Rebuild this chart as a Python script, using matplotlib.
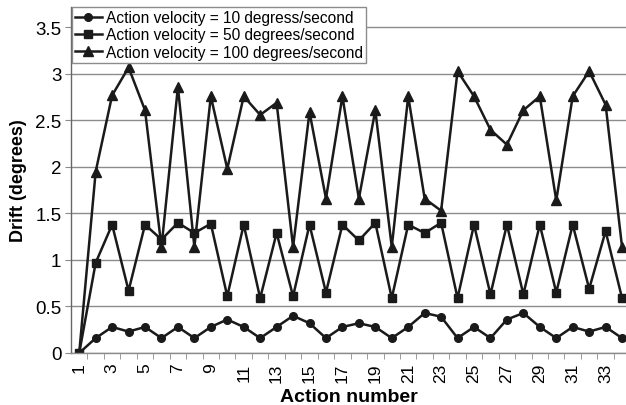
import matplotlib
matplotlib.use("Agg")
import matplotlib.pyplot as plt
import numpy as np

plt.rcParams['font.family'] = ['Liberation Sans', 'DejaVu Sans']

actions = list(range(1, 35))
v10 = [0, 0.16, 0.28, 0.23, 0.28, 0.16, 0.28, 0.16, 0.28, 0.36,
       0.28, 0.16, 0.28, 0.40, 0.32, 0.16, 0.28, 0.32, 0.28, 0.16,
       0.28, 0.43, 0.39, 0.16, 0.28, 0.16, 0.36, 0.43, 0.28, 0.16,
       0.28, 0.23, 0.28, 0.16]
v50 = [0, 0.97, 1.38, 0.67, 1.38, 1.22, 1.40, 1.29, 1.39, 0.61,
       1.38, 0.59, 1.29, 0.61, 1.38, 0.65, 1.38, 1.21, 1.40, 0.59,
       1.38, 1.29, 1.40, 0.59, 1.38, 0.63, 1.38, 0.63, 1.38, 0.65,
       1.38, 0.69, 1.31, 0.59]
v100 = [0, 1.95, 2.77, 3.07, 2.61, 1.14, 2.86, 1.14, 2.76, 1.98,
        2.76, 2.56, 2.69, 1.14, 2.59, 1.66, 2.76, 1.66, 2.61, 1.14,
        2.76, 1.66, 1.53, 3.03, 2.76, 2.40, 2.24, 2.61, 2.76, 1.64,
        2.76, 3.03, 2.67, 1.14]
labels = ["Action velocity = 10 degress/second",
          "Action velocity = 50 degrees/second",
          "Action velocity = 100 degrees/second"]
yticks = [0, 0.5, 1, 1.5, 2, 2.5, 3, 3.5]
ytick_labels = ["0", "0.5", "1", "1.5", "2", "2.5", "3", "3.5"]

W, H = 626, 406
fig = plt.figure(figsize=(W / 100, H / 100), dpi=100)
ax = fig.add_axes([71 / W, 52 / H, 555 / W, 346 / H])

col = '#1a1a1a'
ax.plot(actions, v10, '-o', color=col, lw=1.8, ms=5.5, label=labels[0])
ax.plot(actions, v50, '-s', color=col, lw=1.8, ms=6, label=labels[1])
ax.plot(actions, v100, '-^', color=col, lw=1.8, ms=7, label=labels[2])

ax.set_xlim(0.5, 34.24)
ax.set_ylim(0, 3.72)
ax.set_yticks(yticks)
ax.set_yticklabels(ytick_labels, fontsize=13.5)
ax.yaxis.grid(True, color='#8c8c8c', lw=1)
ax.set_axisbelow(True)

ax.set_xticks(actions)
ax.set_xticklabels([str(a) if a % 2 == 1 else "" for a in actions],
                   rotation=90, fontsize=12.5)
ax.set_xticks(np.arange(1.5, 34.5, 1), minor=True)
ax.tick_params(axis='x', which='major', length=0, pad=7)
ax.tick_params(axis='x', which='minor', length=4.5, color='#8c8c8c', direction='out')
ax.tick_params(axis='y', length=4, color='#8c8c8c', pad=3)

for s in ['top', 'right']:
    ax.spines[s].set_visible(False)
ax.spines['left'].set_color('#666666')
ax.spines['left'].set_linewidth(1)
ax.spines['bottom'].set_color('#8c8c8c')
ax.spines['bottom'].set_linewidth(1)

ax.set_xlabel("Action number", fontsize=14, fontweight='bold', labelpad=4)
ax.set_ylabel("Drift (degrees)", fontsize=13, fontweight='bold', labelpad=6)

leg = ax.legend(loc='upper left', bbox_to_anchor=(0.002, 1.0), borderaxespad=0,
                fontsize=11.2, frameon=True, fancybox=False, framealpha=1,
                edgecolor='#8c8c8c', labelspacing=0.15, borderpad=0.2,
                handlelength=1.7, handletextpad=0.3)
leg.get_frame().set_linewidth(1)

fig.savefig("out.png", dpi=100)
